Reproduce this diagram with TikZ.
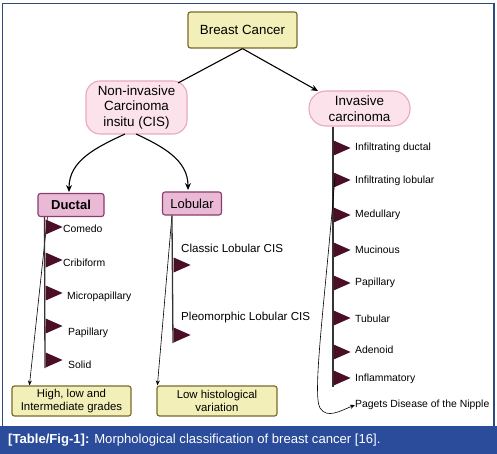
\documentclass[tikz,border=0pt]{standalone}
\usepackage{fontspec}
\setmainfont{Liberation Sans}
\usetikzlibrary{arrows.meta}
\definecolor{ybox}{HTML}{F2EFB8}
\definecolor{ybord}{HTML}{7A6A2E}
\definecolor{pfill}{HTML}{FCE3EB}
\definecolor{pbord}{HTML}{E9A9BC}
\definecolor{dfill}{HTML}{EAB9D6}
\definecolor{dbord}{HTML}{8A3C6C}
\definecolor{flagc}{HTML}{4A0E26}
\definecolor{polec}{HTML}{333333}
\definecolor{frame}{HTML}{2D4A7F}
\definecolor{band}{HTML}{2B4C9B}
\tikzset{
  ybx/.style={draw=ybord, line width=1.2pt, fill=ybox, rounded corners=2.5pt, align=center, font=\fontsize{11.4}{13}\selectfont, inner sep=0pt},
  pbx/.style={draw=pbord, line width=1.1pt, fill=pfill, align=center, font=\fontsize{13.4}{15.5}\selectfont, inner sep=0pt},
  dbx/.style={draw=dbord, line width=1.1pt, fill=dfill, rounded corners=2.5pt, font=\bfseries\fontsize{13}{14}\selectfont, inner sep=0pt},
  lbl/.style={anchor=west, inner sep=0pt, font=\fontsize{10.4}{12}\selectfont},
  lbl2/.style={anchor=west, inner sep=0pt, font=\fontsize{11.6}{13}\selectfont},
  pole/.style={draw=polec, line width=1.3pt},
  thin/.style={draw=black, line width=0.6pt, -{Stealth[length=5pt,width=4pt]}},
  arr/.style={draw=black, line width=1.1pt, -{Stealth[length=7pt,width=6pt]}},
}
\newcommand\flagmark[2]{\fill[flagc] (#1,#2-7.5) -- (#1+17,#2) -- (#1,#2+7.5) -- cycle;}
\begin{document}
\begin{tikzpicture}[x=1pt,y=-1pt]
\useasboundingbox (0,0) rectangle (497,454);
\fill[white] (0,0) rectangle (497,454);
\draw[frame, line width=1.3pt] (2.5,426) -- (2.5,3.5) -- (494,3.5) -- (494,426);
\fill[band] (0,426) rectangle (497,454);
\node[anchor=west, text=white, inner sep=0pt, font=\fontsize{13.1}{15}\selectfont] (cap) at (8,440) {\textbf{[Table/Fig-1]:} Morphological classification of breast cancer [16].};

\node[ybx, minimum width=109pt, minimum height=36pt, font=\fontsize{13.3}{15}\selectfont] (bc) at (242.5,30) {Breast Cancer};
\node[pbx, rounded corners=14pt, minimum width=101pt, minimum height=53pt] (cis) at (136.5,107.5) {Non-invasive\\Carcinoma\\insitu (CIS)};
\node[pbx, rounded corners=17pt, minimum width=101pt, minimum height=35pt] (inv) at (359.5,108.5) {Invasive\\carcinoma};
\node[dbx, minimum width=66pt, minimum height=23pt] (duc) at (71,205) {Ductal};
\node[dbx, font=\fontsize{13}{14}\selectfont, minimum width=59pt, minimum height=23pt] (lob) at (192,203.5) {Lobular};
\node[ybx, minimum width=119pt, minimum height=30pt] (hl) at (71.5,401) {High, low and\\Intermediate grades};
\node[ybx, minimum width=120pt, minimum height=30pt] (lh) at (217,401) {Low histological\\variation};

\draw[line width=1.1pt] (bc.south) -- (178,83);
\draw[arr] (bc.south) -- (318,91);
\draw[arr] (125,134) to[out=205,in=90] (69,192);
\draw[arr] (136,134) to[out=-25,in=90] (188,190);

% ductal
\coordinate (dtop) at ([xshift=7pt]duc.south west);
\draw[thin] ([xshift=10pt]duc.south west) -- ([xshift=18pt]hl.north west);
\draw[pole] (dtop) -- (45,368);
\foreach \y in {227,260,293,326,360} {\flagmark{45.6}{\y}}
\node[lbl] (d1) at (63,229) {Comedo};
\node[lbl] (d2) at (63,263) {Cribiform};
\node[lbl] (d3) at (67,297) {Micropapillary};
\node[lbl] (d4) at (68,333) {Papillary};
\node[lbl] (d5) at (68,365) {Solid};

% lobular
\coordinate (ltop) at ([xshift=10pt]lob.south west);
\draw[thin] (ltop) -- ([xshift=1pt]lh.north west);
\draw[pole] (ltop) -- (173,343);
\foreach \y in {265,335} {\flagmark{173.6}{\y}}
\node[lbl2] (l1) at (181,248) {Classic Lobular CIS};
\node[lbl2] (l2) at (181,317) {Pleomorphic Lobular CIS};

% invasive
\coordinate (itop) at (inv.south -| 333,0);
\draw[pole] (itop) -- (333,387);
\foreach \y in {148,180,215,250,283,318,352,378} {\flagmark{333.6}{\y}}
\node[lbl] (i1) at (355,148) {Infiltrating ductal};
\node[lbl] (i2) at (355,181) {Infiltrating lobular};
\node[lbl] (i3) at (355,215) {Medullary};
\node[lbl] (i4) at (355,250) {Mucinous};
\node[lbl] (i5) at (355,283) {Papillary};
\node[lbl] (i6) at (355,319) {Tubular};
\node[lbl] (i7) at (355,350) {Adenoid};
\node[lbl] (i8) at (355,379) {Inflammatory};
\node[lbl] (i9) at (355,405) {Pagets Disease of the Nipple};
\draw[thin] (335,177) .. controls (325,300) and (312,395) .. (320,408) .. controls (327,419) and (340,411) .. (i9.west);
\end{tikzpicture}
\end{document}
